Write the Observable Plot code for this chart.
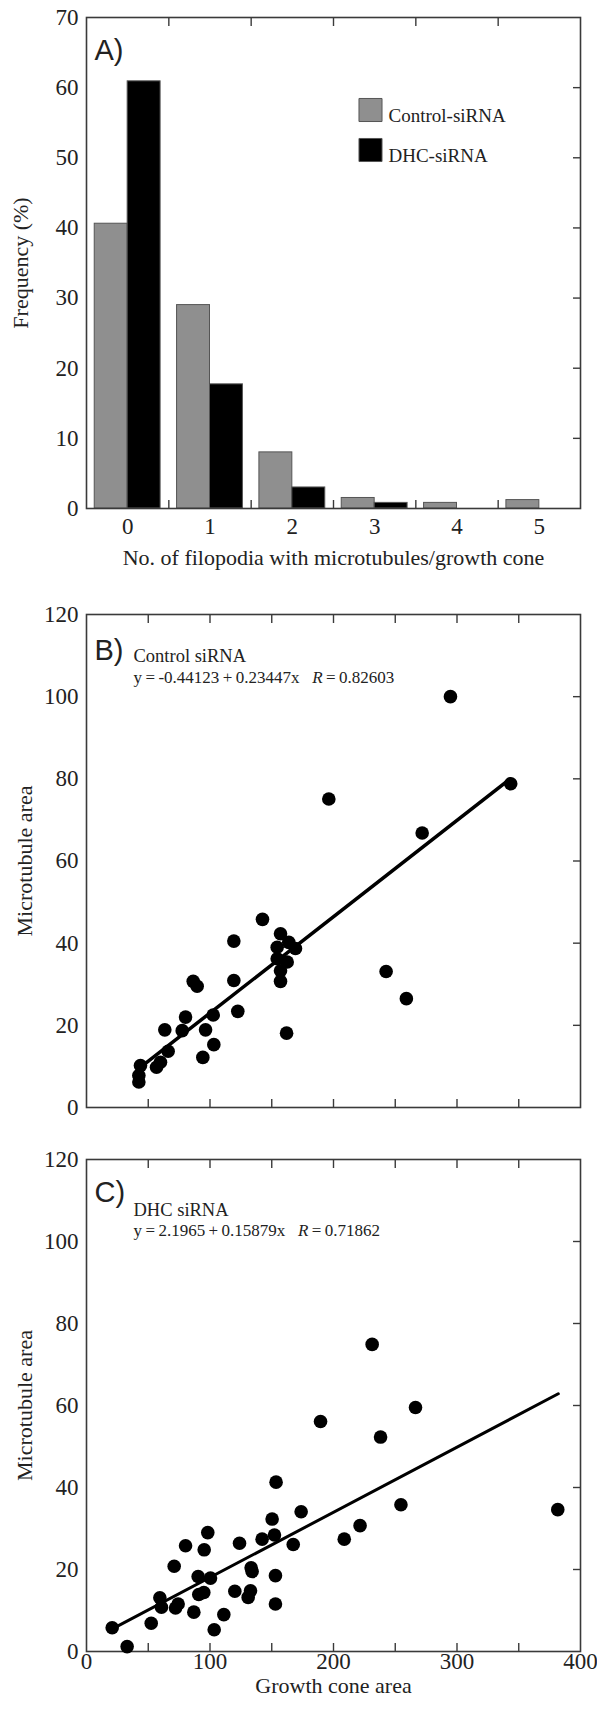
<!DOCTYPE html>
<html><head><meta charset="utf-8">
<script src="https://cdn.jsdelivr.net/npm/d3@7"></script>
<script src="https://cdn.jsdelivr.net/npm/@observablehq/plot@0.6"></script>
<style>
html,body{margin:0;padding:0;background:#fff;}
#wrap{position:relative;width:597px;height:1712px;overflow:hidden;background:#fff;}
#wrap > svg{position:absolute;left:0;overflow:visible;}
#wrap text{white-space:pre;}
</style></head><body><div id="wrap"></div>
<script>
// ---------- Panel A data ----------
const categories = [0, 1, 2, 3, 4, 5];
const seriesNames = ["Control-siRNA", "DHC-siRNA"];
const seriesColors = ["#8f8f8f", "#000000"];
const controlFreq = [40.6, 29.0, 8.0, 1.5, 0.8, 1.2];
const dhcFreq = [60.9, 17.7, 3.0, 0.8, 0, 0];
const freqTicks = [0, 10, 20, 30, 40, 50, 60, 70];

// ---------- Panel B data (Control siRNA) ----------
const controlArea = [42.4, 42.4, 43.7, 56.7, 59.9, 63.4, 66.1, 77.5, 80.2, 86.4, 89.6, 94.2, 96.4, 102.6, 103.1, 119.3, 119.3, 122.5, 142.5, 157.1, 154.4, 163.8, 169.2, 154.4, 162.5, 157.1, 157.1, 162.0, 242.6, 259.0, 196.2, 294.7, 271.8, 343.5];
const controlMT   = [6.2, 7.8, 10.2, 9.8, 11.0, 18.9, 13.7, 18.7, 22.0, 30.7, 29.5, 12.2, 18.9, 22.5, 15.3, 40.5, 30.9, 23.4, 45.8, 42.3, 39.0, 40.2, 38.7, 36.2, 35.4, 33.3, 30.7, 18.1, 33.1, 26.5, 75.1, 100.0, 66.8, 78.8];
const fitB = {intercept: -0.44123, slope: 0.23447, R: "0.82603", from: 48, to: 343};

// ---------- Panel C data (DHC siRNA) ----------
const dhcArea = [20.8, 32.9, 52.4, 59.4, 60.7, 71.0, 72.1, 74.2, 80.2, 86.9, 90.4, 90.9, 95.0, 95.3, 98.2, 100.4, 103.4, 111.2, 120.1, 123.9, 130.9, 132.8, 133.3, 134.1, 142.2, 150.3, 152.2, 153.5, 153.0, 153.0, 167.4, 173.8, 208.7, 221.5, 254.6, 381.6, 231.3, 189.5, 266.4, 238.1];
const dhcMT   = [5.8, 1.2, 6.9, 13.1, 10.8, 20.8, 10.6, 11.6, 25.8, 9.6, 18.3, 13.9, 14.4, 24.8, 29.0, 17.9, 5.3, 9.0, 14.7, 26.4, 13.2, 14.8, 20.4, 19.5, 27.4, 32.3, 28.4, 41.3, 18.5, 11.6, 26.1, 34.1, 27.4, 30.7, 35.8, 34.6, 74.9, 56.1, 59.5, 52.3];
const fitC = {intercept: 2.1965, slope: 0.15879, R: "0.71862", from: 24, to: 382};

const areaTicks = [0, 100, 200, 300, 400];
const areaMinor = [50, 100, 150, 200, 250, 300, 350];
const mtTicks = [0, 20, 40, 60, 80, 100, 120];

// ---------- helpers ----------
const SERIF = "'Liberation Serif','Times New Roman',serif";
const SANS = "'Liberation Sans',Arial,sans-serif";
const INK = "#222";
const FRAME = "#3a3a3a";
const T = "\u2009";
const TICKFS = 23;
const style = {fontFamily: SERIF, fontSize: "21px", color: INK, background: "transparent", overflow: "visible"};

function richEq(svg) {
  svg.querySelectorAll("text").forEach(t => {
    const s = t.textContent;
    const m = s.match(/^(y.*x)( +)R(.*)$/);
    if (!m) return;
    const ns = "http://www.w3.org/2000/svg";
    t.textContent = "";
    t.setAttribute("xml:space", "preserve");
    const a = document.createElementNS(ns, "tspan"); a.textContent = m[1] + m[2];
    const b = document.createElementNS(ns, "tspan"); b.textContent = "R"; b.setAttribute("font-style", "italic");
    const c = document.createElementNS(ns, "tspan"); c.textContent = m[3];
    t.append(a, b, c);
  });
}

const wrap = document.getElementById("wrap");
function place(svg, top) { svg.style.top = top + "px"; wrap.appendChild(svg); richEq(svg); }

// ---------- Panel A ----------
const barW = 0.4;
const bars = categories.flatMap((c, i) => [
  {cat: c, k: 0, series: seriesNames[0], v: controlFreq[i]},
  {cat: c, k: 1, series: seriesNames[1], v: dhcFreq[i]}
]).filter(d => d.v > 0);
const boundaries = categories.slice(1).map(c => c - 0.5);

const svgA = Plot.plot({
  width: 597, height: 590,
  marginTop: 17, marginBottom: 82, marginLeft: 86, marginRight: 17,
  style,
  x: {domain: [-0.5, 5.5], axis: null},
  y: {domain: [0, 70], axis: null},
  color: {domain: seriesNames, range: seriesColors},
  marks: [
    Plot.rect(bars, {x1: d => d.cat - barW + d.k * barW, x2: d => d.cat + d.k * barW, y1: 0, y2: "v", fill: "series", stroke: "#555", strokeWidth: 1}),
    Plot.frame({stroke: FRAME, strokeWidth: 1.6}),
    Plot.axisY(freqTicks, {anchor: "left", tickSize: 0, tickPadding: 8, label: null, fontSize: TICKFS}),
    Plot.axisY(freqTicks.slice(1, -1), {anchor: "right", tickSize: -8, fill: "none", stroke: FRAME, strokeWidth: 1.4, label: null}),
    Plot.axisX(categories, {anchor: "bottom", tickSize: 0, tickPadding: 9, label: null, fontSize: TICKFS}),
    Plot.axisX(boundaries, {anchor: "bottom", tickSize: -8, fill: "none", stroke: FRAME, strokeWidth: 1.4, label: null}),
    Plot.axisX(boundaries, {anchor: "top", tickSize: -8, fill: "none", stroke: FRAME, strokeWidth: 1.4, label: null}),
    Plot.text(["Frequency (%)"], {frameAnchor: "left", textAnchor: "middle", dx: -66, rotate: -90, fontSize: 22, fill: INK}),
    Plot.text(["No. of filopodia with microtubules/growth cone"], {frameAnchor: "bottom", textAnchor: "middle", dy: 56, fontSize: 22, fill: INK}),
    ...seriesNames.map((s, i) => Plot.dot([s], {frameAnchor: "top-left", dx: 284, dy: 92.5 + i * 40, symbol: "square", r: 13, fill: seriesColors[i], stroke: "#555", strokeWidth: 1})),
    ...seriesNames.map((s, i) => Plot.text([s], {frameAnchor: "top-left", dx: 302, dy: 90.5 + i * 40, textAnchor: "start", fontSize: 19, fill: INK})),
    Plot.text(["A)"], {frameAnchor: "top-left", dx: 8, dy: 22, textAnchor: "start", fontFamily: SANS, fontSize: 29, fill: INK})
  ]
});
place(svgA, 0);

// ---------- scatter panels ----------
function scatterPanel({xs, ys, fit, letter, name, height, mt, mb, labelDy, nameDy, eqDy, bottomLabels, lineW}) {
  const pts = xs.map((x, i) => ({x, y: ys[i]}));
  const fitLine = [fit.from, fit.to].map(x => ({x, y: fit.intercept + fit.slope * x}));
  const sign = fit.intercept < 0 ? "-" : "";
  const eq = `y${T}=${T}${sign}${Math.abs(fit.intercept)}${T}+${T}${fit.slope}x   R${T}=${T}${fit.R}`;
  const marks = [
    Plot.frame({stroke: FRAME, strokeWidth: 1.6}),
    Plot.axisY(mtTicks, {anchor: "left", tickSize: 0, tickPadding: 8, label: null, fontSize: TICKFS}),
    Plot.axisY(mtTicks.slice(1, -1), {anchor: "right", tickSize: -8, fill: "none", stroke: FRAME, strokeWidth: 1.4, label: null}),
    Plot.axisX(areaMinor, {anchor: "bottom", tickSize: -8, fill: "none", stroke: FRAME, strokeWidth: 1.4, label: null}),
    Plot.axisX(areaMinor, {anchor: "top", tickSize: -8, fill: "none", stroke: FRAME, strokeWidth: 1.4, label: null}),
    Plot.line(fitLine, {x: "x", y: "y", stroke: "#000", strokeWidth: lineW}),
    Plot.dot(pts, {x: "x", y: "y", r: 6.8, fill: "#000"}),
    Plot.text(["Microtubule area"], {frameAnchor: "left", textAnchor: "middle", dx: -62, rotate: -90, fontSize: 22, fill: INK}),
    Plot.text([letter], {frameAnchor: "top-left", dx: 8, dy: labelDy, textAnchor: "start", fontFamily: SANS, fontSize: 29, fill: INK}),
    Plot.text([name], {frameAnchor: "top-left", dx: 47, dy: nameDy, textAnchor: "start", fontSize: 18.5, fill: INK}),
    Plot.text([eq], {frameAnchor: "top-left", dx: 47, dy: eqDy, textAnchor: "start", fontSize: 17, fill: INK})
  ];
  if (bottomLabels) {
    marks.push(Plot.axisX(areaTicks, {anchor: "bottom", tickSize: 0, tickPadding: 1, label: null, fontSize: TICKFS}));
    marks.push(Plot.text(["Growth cone area"], {frameAnchor: "bottom", textAnchor: "middle", dy: 41, fontSize: 22, fill: INK}));
  }
  return Plot.plot({
    width: 597, height,
    marginTop: mt, marginBottom: mb, marginLeft: 86, marginRight: 17,
    style,
    x: {domain: [0, 400], axis: null},
    y: {domain: [0, 120], axis: null},
    marks
  });
}

place(scatterPanel({xs: controlArea, ys: controlMT, fit: fitB, letter: "B)", name: "Control siRNA",
  height: 540, mt: 24, mb: 23, labelDy: 25, nameDy: 34, eqDy: 56, bottomLabels: false, lineW: 3.5}), 590);

place(scatterPanel({xs: dhcArea, ys: dhcMT, fit: fitC, letter: "C)", name: "DHC siRNA",
  height: 582, mt: 29, mb: 61, labelDy: 22, nameDy: 43, eqDy: 64, bottomLabels: true, lineW: 3}), 1130);
</script></body></html>
